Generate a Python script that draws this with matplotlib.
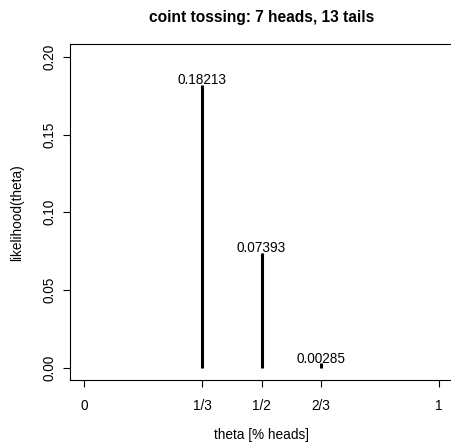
import matplotlib
matplotlib.use('Agg')
import matplotlib.pyplot as plt

# hypotheses for theta and their likelihood given 7 heads / 13 tails
thetas = [1/3, 1/2, 2/3]
likelihoods = [0.18213, 0.07393, 0.00285]
x_ticks = [0, 1/3, 1/2, 2/3, 1]
x_ticklabels = ['0', '1/3', '1/2', '2/3', '1']
y_ticks = [0.00, 0.05, 0.10, 0.15, 0.20]

plt.rcParams['font.family'] = ['Liberation Sans', 'DejaVu Sans']

W, H = 451, 444
fig = plt.figure(figsize=(W / 100, H / 100), dpi=100)
left, right, top, bottom = 70, 453, 44.5, 380
ax = fig.add_axes([left / W, 1 - bottom / H, (right - left) / W, (bottom - top) / H])

ax.vlines(thetas, 0, likelihoods, colors='black', linewidth=2.2)
for t, l in zip(thetas, likelihoods):
    ax.text(t, l + 0.0003, '%.5f' % l, ha='center', va='baseline', fontsize=9.8)

ax.set_xlim(-0.04, 1.04)
ax.set_ylim(-0.008, 0.208)
ax.set_xticks(x_ticks)
ax.set_xticklabels(x_ticklabels)
ax.set_yticks(y_ticks)
ax.set_yticklabels(['%.2f' % v for v in y_ticks], rotation=90, va='center')
ax.tick_params(axis='both', length=5, width=0.8, labelsize=9.8)
ax.tick_params(axis='x', pad=8.5)
ax.tick_params(axis='y', pad=5)
for s in ax.spines.values():
    s.set_linewidth(0.8)

ax.set_xlabel('theta [% heads]', fontsize=9.8, va='center')
ax.xaxis.set_label_coords(0.5, -55 / (bottom - top))
ax.set_ylabel('likelihood(theta)', fontsize=9.8, va='center')
ax.yaxis.set_label_coords(-53 / (right - left), 0.5)
ax.set_title('coint tossing: 7 heads, 13 tails', fontsize=11.2, fontweight='bold', pad=16)

fig.savefig('out.png', dpi=100)
